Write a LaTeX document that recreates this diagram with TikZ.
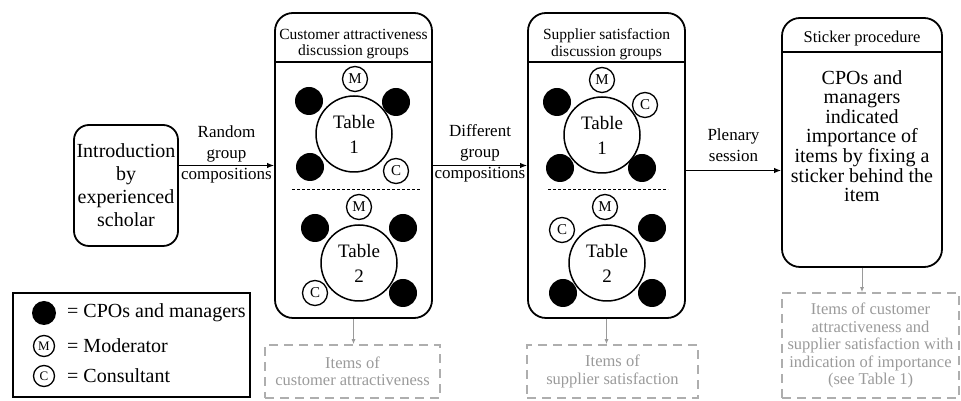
\documentclass[tikz,border=0pt]{standalone}
\usepackage{fontspec}
\setmainfont{Liberation Serif}
\usetikzlibrary{arrows.meta}
\usetikzlibrary{positioning}
\usetikzlibrary{calc}
\definecolor{itemgray}{HTML}{9A9A9A}
\tikzset{
  % big process boxes
  stage/.style = {
    draw = black,
    line width = 1.8pt,
    rounded corners = 18pt,
    inner sep = 0
  },
  % dashed output boxes
  outbox/.style = {
    draw = itemgray!80,
    line width = 1.6pt,
    dash pattern = on 9pt off 6pt,
    text = itemgray,
    align = center,
    inner sep = 0,
    font = \fontsize{16.5}{17.5}\selectfont
  },
  head/.style = {
    align = center,
    inner sep = 0,
    font = \fontsize{15.5}{16.5}\selectfont
  },
  lbl/.style = {
    align = center,
    inner sep = 0,
    font = \fontsize{17}{21}\selectfont
  },
  table/.style = {
    draw = black,
    circle,
    line width = 1.5pt,
    minimum size = 76pt,
    inner sep = 0,
    align = center,
    font = \fontsize{19}{25}\selectfont
  },
  % CPO or manager
  cpo/.style = {
    circle,
    fill = black,
    minimum size = 28pt,
    inner sep = 0
  },
  % moderator and consultant
  seat/.style = {
    draw = black,
    circle,
    line width = 1.3pt,
    minimum size = 25pt,
    inner sep = 0,
    font = \fontsize{15}{15}\selectfont
  },
  flow/.style = {
    draw = black,
    line width = 1.2pt,
    -{Latex[length=7pt, width=5.5pt]}
  },
  outflow/.style = {
    draw = itemgray,
    line width = 1pt,
    -{Latex[length=5pt, width=4pt]}
  },
  sep/.style = {
    draw = black,
    line width = 1pt,
    dash pattern = on 3pt off 2pt
  },
  legtxt/.style = {
    anchor = west,
    inner sep = 1pt,
    font = \fontsize{20}{22}\selectfont
  }
}

\begin{document}
\begin{tikzpicture}[x=1pt, y=1pt]
  \useasboundingbox (0,0) rectangle (961,401);

  % process boxes
  \node[stage, minimum width=104pt, minimum height=121pt, rounded corners=15pt,
    align=center, font=\fontsize{20}{23}\selectfont] (intro) at (126,215.5)
    {Introduction\\by\\experienced\\scholar};
  \node[stage, minimum width=157pt, minimum height=305pt] (cust) at (353.5,235.5) {};
  \node[stage, minimum width=157pt, minimum height=305pt] (sup) at (606.5,235.5) {};
  \node[stage, minimum width=160pt, minimum height=249pt] (stick) at (862,258.5) {};

  % headers
  \draw[line width=1.2pt] ([yshift=-50pt]cust.north west) -- ([yshift=-50pt]cust.north east);
  \draw[line width=1.2pt] ([yshift=-50pt]sup.north west) -- ([yshift=-50pt]sup.north east);
  \draw[line width=1.2pt] ([yshift=-35pt]stick.north west) -- ([yshift=-35pt]stick.north east);
  \node[head] (custhead) at ([yshift=-32pt]cust.north)
    {Customer attractiveness\\discussion groups};
  \node[head] (suphead) at ([yshift=-32pt]sup.north)
    {Supplier satisfaction\\discussion groups};
  \node[head, font=\fontsize{16.5}{17}\selectfont] (stickhead) at ([yshift=-21pt]stick.north)
    {Sticker procedure};
  \node[align=center, inner sep=0, font=\fontsize{20}{19.6}\selectfont] (stickbody)
    at ([yshift=-119pt]stick.north)
    {CPOs and\\managers\\indicated\\importance of\\items by fixing a\\sticker behind the\\item};

  % customer attractiveness tables
  \node[table] (ct1) at (354,267) {Table\\1};
  \node[seat] (ct1m) at ($(ct1)+(1,55)$) {M};
  \node[cpo] (ct1a) at ($(ct1)+(-45,33)$) {};
  \node[cpo] (ct1b) at ($(ct1)+(42,32)$) {};
  \node[cpo] (ct1c) at ($(ct1)+(-44,-33)$) {};
  \node[seat] (ct1k) at ($(ct1)+(42,-37)$) {C};
  \draw[sep] (292,211) -- (420,211);
  \node[table] (ct2) at (359,138) {Table\\2};
  \node[seat] (ct2m) at ($(ct2)+(0,56)$) {M};
  \node[cpo] (ct2a) at ($(ct2)+(-44,35)$) {};
  \node[cpo] (ct2b) at ($(ct2)+(44,35)$) {};
  \node[seat] (ct2k) at ($(ct2)+(-44,-30)$) {C};
  \node[cpo] (ct2c) at ($(ct2)+(44,-30)$) {};

  % supplier satisfaction tables
  \node[table] (st1) at (602,266) {Table\\1};
  \node[seat] (st1m) at ($(st1)+(0,55)$) {M};
  \node[seat] (st1k) at ($(st1)+(43,30)$) {C};
  \node[cpo] (st1a) at ($(st1)+(-45,33)$) {};
  \node[cpo] (st1b) at ($(st1)+(-42,-33)$) {};
  \node[cpo] (st1c) at ($(st1)+(40,-33)$) {};
  \draw[sep] (548,211) -- (668,211);
  \node[table] (st2) at (607,138) {Table\\2};
  \node[seat] (st2m) at ($(st2)+(-2,56)$) {M};
  \node[seat] (st2k) at ($(st2)+(-45,33)$) {C};
  \node[cpo] (st2a) at ($(st2)+(45,35)$) {};
  \node[cpo] (st2b) at ($(st2)+(-44,-30)$) {};
  \node[cpo] (st2c) at ($(st2)+(45,-30)$) {};

  % flow between the stages
  \draw[flow] (intro.east |- cust.west) -- (cust.west)
    node[lbl, midway, yshift=11pt] (lrand) {Random\\group\\compositions};
  \draw[flow] (cust.east) -- (sup.west)
    node[lbl, midway, yshift=12pt] (ldiff) {Different\\group\\compositions};
  \draw[flow] ([yshift=-5pt]sup.east) -- ([yshift=-5pt]sup.east -| stick.west)
    node[lbl, midway, yshift=25pt] (lplen) {Plenary\\session};

  % outputs
  \node[outbox, minimum width=175pt, minimum height=53pt] (citems) at (352.5,29.5)
    {Items of\\customer attractiveness};
  \node[outbox, minimum width=171pt, minimum height=53pt] (sitems) at (612.5,29.5)
    {Items of\\supplier satisfaction};
  \node[outbox, minimum width=177pt, minimum height=105pt] (kitems) at (870.5,55.5)
    {Items of customer\\attractiveness and\\supplier satisfaction with\\indication of importance\\(see Table 1)};
  \draw[outflow] (cust.south) -- (cust.south |- citems.north);
  \draw[outflow] (sup.south) -- (sup.south |- sitems.north);
  \draw[outflow] (stick.south) -- (stick.south |- kitems.north);

  % legend
  \node[draw=black, line width=2pt, minimum width=237pt, minimum height=104pt,
    inner sep=0] (legend) at (131.5,56) {};
  \node[cpo, minimum size=24pt] (lcpo) at (44,88) {};
  \node[seat, minimum size=21pt, font=\fontsize{13}{13}\selectfont] (lmod) at (44,55) {M};
  \node[seat, minimum size=21pt, font=\fontsize{13}{13}\selectfont] (lcon) at (44,25) {C};
  \node[legtxt, right=22pt of lcpo.center] (lcpotxt) {= CPOs and managers};
  \node[legtxt, right=22pt of lmod.center] (lmodtxt) {= Moderator};
  \node[legtxt, right=22pt of lcon.center] (lcontxt) {= Consultant};
\end{tikzpicture}
\end{document}
